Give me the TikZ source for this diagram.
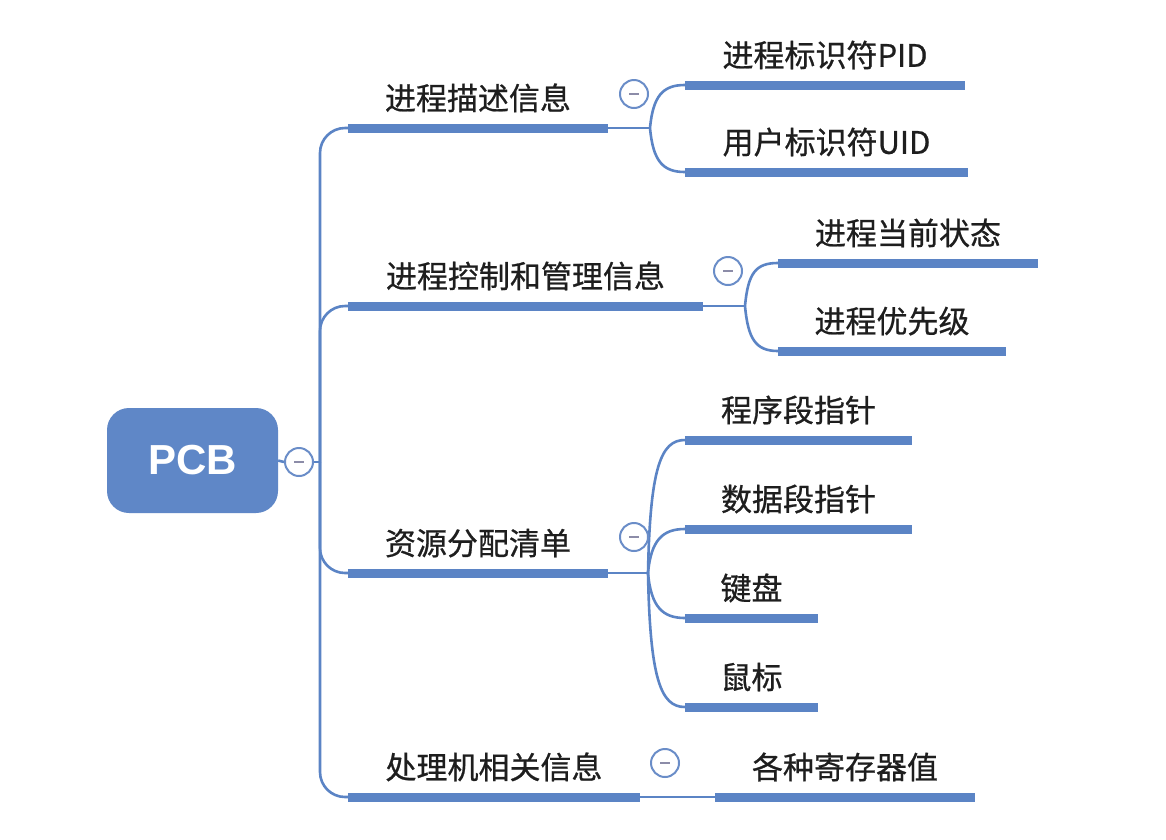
\documentclass[tikz,border=0pt]{standalone}
\usepackage{fontspec}
\setmainfont{Noto Sans CJK SC}
\newfontfamily\topicfont{Noto Sans CJK SC}[FakeBold=0.7]
\newfontfamily\pcbfont{Liberation Sans}
\definecolor{lineblue}{HTML}{5B84C5}
\definecolor{boxblue}{HTML}{5F87C7}
\definecolor{ringblue}{HTML}{6A8DC8}
\definecolor{minusgray}{HTML}{8C8CA8}
\definecolor{txt}{HTML}{1E1E1E}
\tikzset{
  topic/.style={font=\topicfont\fontsize{31}{36}\selectfont, text=txt, inner xsep=0pt, inner ysep=0pt,
    text depth=18pt, anchor=south},
  ul/.style={draw=lineblue, line width=9pt},
  conn/.style={draw=lineblue, line width=2.6pt},
  toggle/.style={circle, draw=ringblue, fill=white, line width=2pt, minimum size=28pt, inner sep=0pt},
  rootbox/.style={rounded corners=22pt, fill=boxblue, minimum width=171pt, minimum height=105pt,
    text=white, font=\pcbfont\bfseries\fontsize{42}{48}\selectfont}
}
\newcommand{\minusmark}{{\color{minusgray}\rule{10pt}{2.2pt}}}
\begin{document}
\begin{tikzpicture}[x=1pt,y=-1pt]
\useasboundingbox[fill=white] (0,0) rectangle (1166,839);

% root
\node[rootbox] (pcb) at (192.5,460.5) {PCB};
\coordinate (t) at (320,462);

% main topics
\node[topic, minimum width=260pt] (b1) at (478,128) {进程描述信息};
\node[topic, minimum width=355pt] (b2) at (525.5,306) {进程控制和管理信息};
\node[topic, minimum width=260pt] (b3) at (478,573) {资源分配清单};
\node[topic, minimum width=292pt] (b4) at (494,797) {处理机相关信息};

% sub topics
\node[topic, minimum width=280pt] (c11) at (825,85) {进程标识符PID};
\node[topic, minimum width=283pt] (c12) at (826.5,172) {用户标识符UID};
\node[topic, minimum width=260pt] (c21) at (908,263) {进程当前状态};
\node[topic, minimum width=228pt] (c22) at (892,351) {进程优先级};
\node[topic, minimum width=227pt] (c31) at (798.5,440) {程序段指针};
\node[topic, minimum width=227pt] (c32) at (798.5,529) {数据段指针};
\node[topic, minimum width=133pt] (c33) at (751.5,618) {键盘};
\node[topic, minimum width=133pt] (c34) at (751.5,707) {鼠标};
\node[topic, minimum width=260pt] (c41) at (845,797) {各种寄存器值};

% junctions
\coordinate (j1) at (650,128);
\coordinate (j2) at (745,306);
\coordinate (j3) at (648,573);

% root connectors
\node[toggle] (k0) at (299,462) {\minusmark};
\draw[conn] (pcb.east) -- (k0.west);
\draw[conn] (k0.east) -- (t);
\draw[conn, rounded corners=25pt] (t) |- (b1.south west);
\draw[conn, rounded corners=25pt] (t) |- (b2.south west);
\draw[conn, rounded corners=25pt] (t) |- (b3.south west);
\draw[conn, rounded corners=25pt] (t) |- (b4.south west);

% branch 1
\draw[conn] (b1.south east) -- (j1);
\draw[conn] (j1) .. controls +(3,-32) and +(-22,0) .. (c11.south west);
\draw[conn] (j1) .. controls +(3,33) and +(-22,0) .. (c12.south west);
% branch 2
\draw[conn] (b2.south east) -- (j2);
\draw[conn] (j2) .. controls +(3,-33) and +(-22,0) .. (c21.south west);
\draw[conn] (j2) .. controls +(3,33) and +(-22,0) .. (c22.south west);
% branch 3
\draw[conn] (b3.south east) -- (j3);
\draw[conn] (j3) .. controls +(2,-105) and +(-24,0) .. (c31.south west);
\draw[conn] (j3) .. controls +(3,-33) and +(-22,0) .. (c32.south west);
\draw[conn] (j3) .. controls +(3,34) and +(-22,0) .. (c33.south west);
\draw[conn] (j3) .. controls +(2,106) and +(-24,0) .. (c34.south west);
% branch 4
\draw[conn] (b4.south east) -- (c41.south west);

% underlines
\foreach \n in {b1,b2,b3,b4,c11,c12,c21,c22,c31,c32,c33,c34,c41}{
  \draw[ul] (\n.south west) -- (\n.south east);
}

% toggles
\node[toggle] (k1) at (634,94) {\minusmark};
\node[toggle] (k2) at (728,271) {\minusmark};
\node[toggle] (k3) at (634,537) {\minusmark};
\node[toggle] (k4) at (665,763) {\minusmark};
\end{tikzpicture}
\end{document}
